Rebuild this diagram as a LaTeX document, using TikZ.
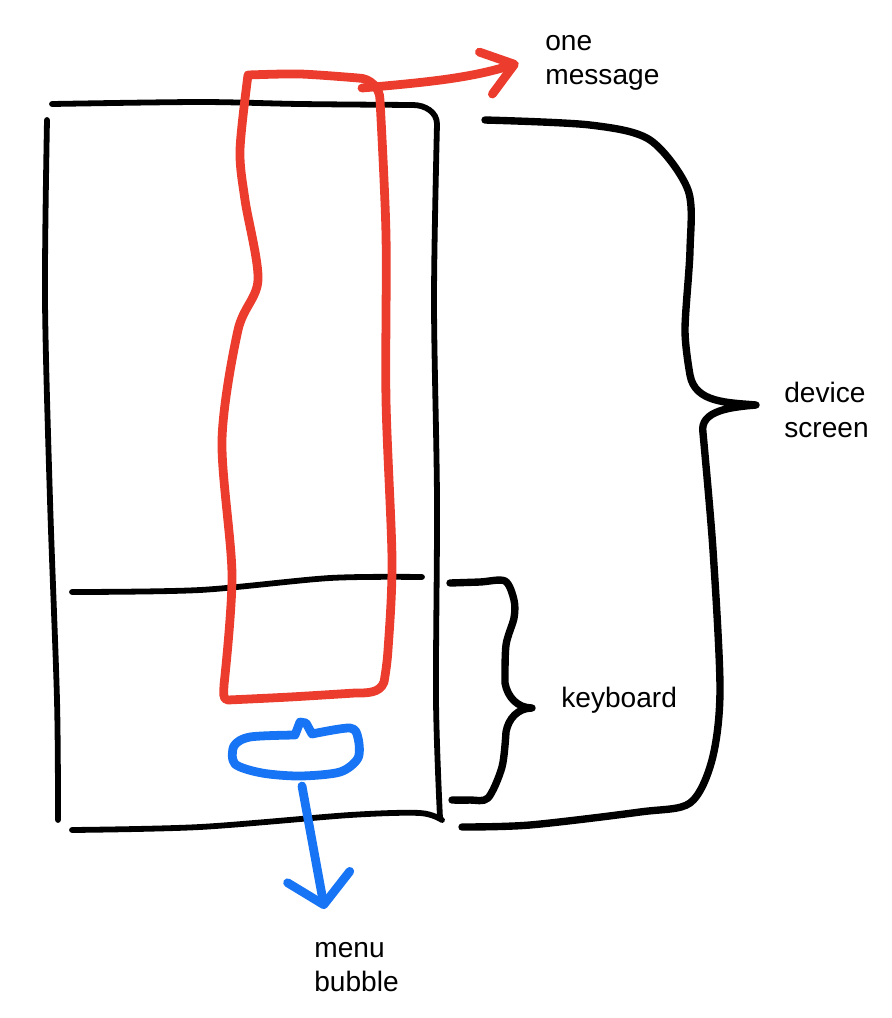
\documentclass[tikz,border=0pt]{standalone}
\usepackage{fontspec}
\setmainfont{Liberation Sans}
\usepackage{tikz}
\usetikzlibrary{arrows.meta, positioning}
\definecolor{sketchred}{RGB}{235,60,45}
\definecolor{sketchblue}{RGB}{22,116,245}
\tikzset{
  inkline/.style={line width=3.3pt, line cap=round, line join=round, black},
  braceline/.style={line width=4.2pt, line cap=round, line join=round, black},
  redline/.style={line width=5pt, line cap=round, line join=round, sketchred},
  blueline/.style={line width=5pt, line cap=round, line join=round, sketchblue},
  redarrow/.style={redline, -{Straight Barb[round, length=17pt, width=25pt]}},
  bluearrow/.style={blueline, -{Straight Barb[round, length=16pt, width=36pt]}},
  label/.style={font=\fontsize{16}{19.5}\selectfont, align=left, inner sep=0pt, anchor=west}
}
\begin{document}
\begin{tikzpicture}[x=0.02cm, y=-0.02cm]
  \useasboundingbox (0,0) rectangle (892,1018);

  % device outline
  \draw[inkline] plot[smooth] coordinates {(52,104) (200,102) (300,104) (413,105)}
    to[out=0, in=90] (437,124)
    plot[smooth] coordinates {(437,124) (434,300) (437,500) (436,700) (440,818)};
  \draw[inkline] plot[smooth] coordinates {(47,120) (45,300) (50,500) (57,700) (58,820)};
  \draw[inkline] plot[smooth] coordinates {(72,830) (200,827) (350,815) (420,813) (442,820)};
  % keyboard divider
  \draw[inkline] plot[smooth] coordinates {(72,592) (200,590) (330,578) (422,577)};

  % one message
  \draw[redline] plot[smooth] coordinates {(248,75) (300,74) (358,78)}
    to[out=0, in=90] (380,100)
    plot[smooth] coordinates {(380,100) (386,235) (386,400) (392,560) (388,650) (384,682)}
    to[out=-110, in=0] (355,693)
    plot[smooth] coordinates {(355,693) (290,697) (228,700)}
    to[out=180, in=-90] (224,685)
    plot[smooth] coordinates {(224,685) (232,575) (222,440) (238,330) (258,280) (245,200) (240,150) (248,75)};
  \coordinate (msgtop) at (362,88);
  \node[label] (onemsg) at (545,63) {one\\message};
  \draw[redarrow] (msgtop) .. controls (430,82) and (470,78) .. ([xshift=-15pt, yshift=0pt]onemsg.west);

  % menu bubble
  \draw[blueline] plot[smooth] coordinates {(295,735) (250,737) (234,746) (235,764) (262,773) (300,776) (340,772) (358,758) (358,738) (350,728) (312,734)}
    -- (306,723) -- (300,722) -- cycle;
  \coordinate (bubbletail) at (302,786);
  \node[label] (menu) at (314,967) {menu\\bubble};
  \draw[bluearrow] (bubbletail) -- ([xshift=6pt, yshift=33pt]menu.west);

  % keyboard brace
  \draw[braceline] plot[smooth] coordinates {(450,583) (480,582) (505,581) (514,600) (514,618) (506,645) (505,683)}
    to[out=-80, in=180] (532,708)
    to[out=180, in=80] (506,732)
    plot[smooth] coordinates {(506,732) (502,767) (488,798) (470,800) (452,800)};
  \node[label] (keyboard) at (561,700) {keyboard};

  % device screen brace
  \draw[braceline] plot[smooth] coordinates {(485,120) (590,125) (650,140) (688,190) (690,250) (685,330) (690,375)}
    to[out=-80, in=175] (756,405)
    to[out=-175, in=100] (703,433)
    plot[smooth] coordinates {(703,433) (713,550) (720,690) (712,760) (690,803) (640,812) (530,825) (462,827)};
  \node[label] (screen) at (784,410) {device\\screen};
\end{tikzpicture}
\end{document}
